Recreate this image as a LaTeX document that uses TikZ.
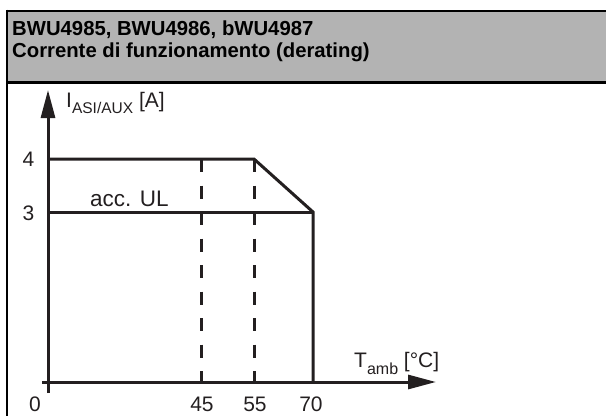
\documentclass[tikz,border=0pt]{standalone}
\usepackage{fontspec}
\setmainfont{Liberation Sans}
\usetikzlibrary{arrows.meta}
\definecolor{ink}{HTML}{231F20}
\definecolor{hdr}{HTML}{B3B3B3}
\begin{document}
\begin{tikzpicture}[x=1pt,y=-1pt,
 frame/.style={line width=2.6pt, draw=black},
 axis/.style={line width=3pt, draw=ink, -{Triangle[length=28pt,width=14pt]}},
 curve/.style={line width=3pt, draw=ink, line join=miter},
 guide/.style={line width=3pt, draw=ink, dash pattern=on 13pt off 13.5pt},
 lbl/.style={inner sep=0pt, text=ink, font=\fontsize{21}{25}\selectfont},
 ttl/.style={inner sep=0pt, text=black, font=\bfseries\fontsize{20.3}{24}\selectfont, anchor=base west},
]
\useasboundingbox (0,0) rectangle (606,416);
% header and frame
\fill[hdr] (7,11) rectangle (606,82.5);
\draw[frame] (7,11) -- (606,11);
\draw[frame] (7,82.5) -- (606,82.5);
\draw[frame] (7,9.7) -- (7,416);
\node[ttl] (t1) at (12,35) {BWU4985, BWU4986, bWU4987};
\node[ttl] (t2) at (12,57) {Corrente di funzionamento (derating)};
% coordinates
\coordinate (ybot) at (48,393);
\coordinate (ytop) at (48,90);
\coordinate (xleft) at (42,382);
\coordinate (xtip) at (436,382);
\coordinate (a4) at (48,159);
\coordinate (a3) at (48,212);
\coordinate (k55) at (254,159);
\coordinate (k70) at (313,212);
\coordinate (b70) at (313,382);
\coordinate (d45t) at (201,159);
\coordinate (d45b) at (201,382);
\coordinate (d55b) at (254,382);
% dashed guides
\draw[guide] (d45t) -- (d45b);
\draw[guide] (k55) -- (d55b);
% axes
\draw[axis] (ybot) -- (ytop);
\draw[axis] (xleft) -- (xtip);
% curves
\draw[curve] (a4) -- (k55) -- (k70) -- (b70);
\draw[curve] (a3) -- (k70);
% labels
\node[lbl] (l4) at (28.5,159) {4};
\node[lbl] (l3) at (28.5,213) {3};
\node[lbl, anchor=base] (l0) at (35,411) {0};
\node[lbl, anchor=base] (l45) at (202,411) {45};
\node[lbl, anchor=base] (l55) at (255,411) {55};
\node[lbl, anchor=base] (l70) at (311,411) {70};
\node[lbl, anchor=base west, font=\fontsize{22.5}{26}\selectfont] (ul) at (90,206) {acc. UL};
\node[lbl, anchor=base west] (ylab) at (66,107) {I\raisebox{-6pt}{\fontsize{15.5}{16}\selectfont ASI/AUX} [A]};
\node[lbl, anchor=base west] (xlab) at (354,367) {T\raisebox{-7pt}{\fontsize{16}{16}\selectfont amb} [°C]};
\end{tikzpicture}
\end{document}
